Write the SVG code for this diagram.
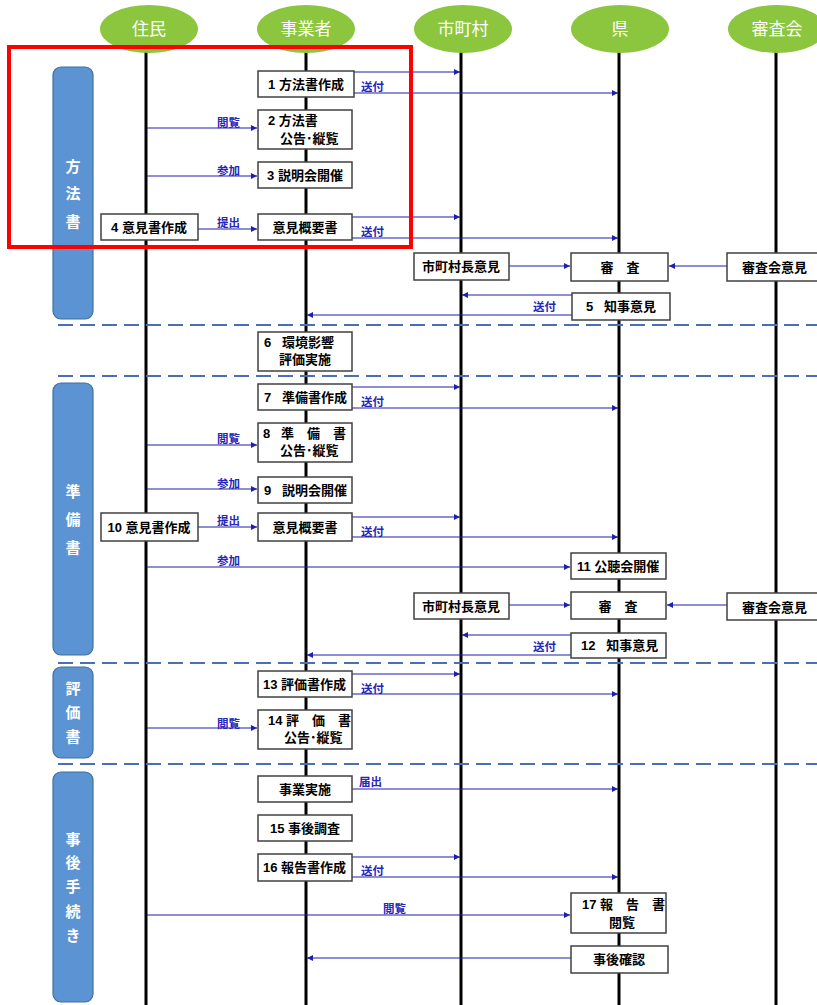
<svg xmlns="http://www.w3.org/2000/svg" width="817" height="1005" viewBox="0 0 817 1005">
<style>
.actor{fill:#8cc63f}
.actorT{font-family:"Liberation Sans","Noto Sans CJK JP",sans-serif;font-size:17px;fill:#fff;text-anchor:middle}
.life{stroke:#000;stroke-width:3}
.phase{fill:#5b93d3;stroke:#41719c;stroke-width:1.2}
.phaseT{font-family:"Noto Sans CJK JP",sans-serif;font-size:15px;font-weight:bold;fill:#fff;text-anchor:middle}
.sep{stroke:#4a6fb5;stroke-width:2;stroke-dasharray:15 7;fill:none}
.box{fill:#fff;stroke:#404040;stroke-width:1.5}
.bt{font-family:"Liberation Sans","Noto Sans CJK JP",sans-serif;font-size:13px;font-weight:bold;fill:#000}
.c{text-anchor:middle}
.con{stroke:#1f1fb0;stroke-width:1.2;fill:none;marker-end:url(#ah)}
.lbl{font-family:"Noto Sans CJK JP",sans-serif;font-size:11.5px;font-weight:bold;fill:#2626b8}
</style>
<defs>
<marker id="ah" viewBox="0 0 10 10" refX="10" refY="5" markerWidth="8" markerHeight="6" markerUnits="userSpaceOnUse" orient="auto">
<path d="M0,0 L10,5 L0,10 z" fill="#1f1fb0"/>
</marker>
</defs>
<rect width="817" height="1005" fill="#fff"/>

<g id="lifelines">
<line class="life" x1="146" y1="50" x2="146" y2="1005"/>
<line class="life" x1="306" y1="50" x2="306" y2="1005"/>
<line class="life" x1="461" y1="50" x2="461" y2="1005"/>
<line class="life" x1="619" y1="50" x2="619" y2="1005"/>
<line class="life" x1="776" y1="50" x2="776" y2="1005"/>
</g>

<g id="separators">
<line class="sep" x1="58" y1="325" x2="817" y2="325"/>
<line class="sep" x1="58" y1="376" x2="817" y2="376"/>
<line class="sep" x1="58" y1="663" x2="817" y2="663"/>
<line class="sep" x1="58" y1="764" x2="817" y2="764"/>
</g>

<g id="actor-jumin"><ellipse class="actor" cx="149" cy="29" rx="49" ry="24"/><text class="actorT" x="149" y="35">住民</text></g>
<g id="actor-jigyosha"><ellipse class="actor" cx="306" cy="29" rx="49" ry="24"/><text class="actorT" x="306" y="35">事業者</text></g>
<g id="actor-shichoson"><ellipse class="actor" cx="463" cy="29" rx="49" ry="24"/><text class="actorT" x="463" y="35">市町村</text></g>
<g id="actor-ken"><ellipse class="actor" cx="620" cy="29" rx="49" ry="24"/><text class="actorT" x="620" y="35">県</text></g>
<g id="actor-shinsakai"><ellipse class="actor" cx="777" cy="29" rx="49" ry="24"/><text class="actorT" x="777" y="35">審査会</text></g>

<g id="phase-hohosho"><rect class="phase" x="53" y="67" width="40" height="252" rx="8"/>
<text class="phaseT" x="73" y="172">方</text><text class="phaseT" x="73" y="199">法</text><text class="phaseT" x="73" y="227">書</text></g>
<g id="phase-junbisho"><rect class="phase" x="53" y="383" width="40" height="272" rx="8"/>
<text class="phaseT" x="73" y="497">準</text><text class="phaseT" x="73" y="525">備</text><text class="phaseT" x="73" y="553">書</text></g>
<g id="phase-hyokasho"><rect class="phase" x="53" y="667" width="40" height="91" rx="8"/>
<text class="phaseT" x="73" y="694">評</text><text class="phaseT" x="73" y="718">価</text><text class="phaseT" x="73" y="742">書</text></g>
<g id="phase-jigo"><rect class="phase" x="53" y="772" width="40" height="230" rx="8"/>
<text class="phaseT" x="73" y="845">事</text><text class="phaseT" x="73" y="868">後</text><text class="phaseT" x="73" y="892">手</text><text class="phaseT" x="73" y="917">続</text><text class="phaseT" x="73" y="941">き</text></g>

<g id="connectors">
<path class="con" d="M354 72 H460"/>
<path class="con" d="M354 93 H618"/>
<path class="con" d="M147 128 H257"/>
<path class="con" d="M147 176 H257"/>
<path class="con" d="M198 229 H257"/>
<path class="con" d="M352 217 H460"/>
<path class="con" d="M352 238 H618"/>
<path class="con" d="M509 266 H570"/>
<path class="con" d="M727 266 H669"/>
<path class="con" d="M572 295 H462"/>
<path class="con" d="M572 315 H307"/>
<path class="con" d="M352 387 H460"/>
<path class="con" d="M352 408 H618"/>
<path class="con" d="M147 445 H257"/>
<path class="con" d="M147 489 H257"/>
<path class="con" d="M198 527 H257"/>
<path class="con" d="M352 517 H460"/>
<path class="con" d="M352 537 H618"/>
<path class="con" d="M147 567 H570"/>
<path class="con" d="M509 605 H570"/>
<path class="con" d="M727 605 H667"/>
<path class="con" d="M571 635 H462"/>
<path class="con" d="M571 655 H307"/>
<path class="con" d="M352 674 H460"/>
<path class="con" d="M352 694 H618"/>
<path class="con" d="M147 728 H257"/>
<path class="con" d="M352 789 H618"/>
<path class="con" d="M352 857 H460"/>
<path class="con" d="M352 877 H618"/>
<path class="con" d="M147 915 H570"/>
<path class="con" d="M571 958 H307"/>
<text class="lbl" x="361" y="91">送付</text>
<text class="lbl" x="217" y="127">閲覧</text>
<text class="lbl" x="217" y="175">参加</text>
<text class="lbl" x="217" y="227">提出</text>
<text class="lbl" x="361" y="236">送付</text>
<text class="lbl" x="533" y="311">送付</text>
<text class="lbl" x="361" y="406">送付</text>
<text class="lbl" x="217" y="443">閲覧</text>
<text class="lbl" x="217" y="488">参加</text>
<text class="lbl" x="217" y="525">提出</text>
<text class="lbl" x="361" y="536">送付</text>
<text class="lbl" x="217" y="565">参加</text>
<text class="lbl" x="533" y="651">送付</text>
<text class="lbl" x="361" y="693">送付</text>
<text class="lbl" x="217" y="728">閲覧</text>
<text class="lbl" x="359" y="786">届出</text>
<text class="lbl" x="361" y="875">送付</text>
<text class="lbl" x="383" y="913">閲覧</text>
</g>

<g id="n1"><rect class="box" x="258" y="71" width="96" height="26"/><text class="bt c" x="306" y="89">1 方法書作成</text></g>
<g id="n2"><rect class="box" x="258" y="110" width="94" height="39"/><text class="bt" x="268" y="125">2 方法書</text><text class="bt" x="280" y="143">公告･縦覧</text></g>
<g id="n3"><rect class="box" x="258" y="162" width="94" height="26"/><text class="bt c" x="305" y="180">3 説明会開催</text></g>
<g id="n4"><rect class="box" x="101" y="214" width="97" height="26"/><text class="bt c" x="149" y="232">4 意見書作成</text></g>
<g id="n4b"><rect class="box" x="258" y="214" width="94" height="26"/><text class="bt c" x="305" y="232">意見概要書</text></g>
<g id="n-mayor1"><rect class="box" x="414" y="253" width="95" height="27"/><text class="bt c" x="461" y="271">市町村長意見</text></g>
<g id="n-review1"><rect class="box" x="571" y="253" width="97" height="28"/><text class="bt c" x="620" y="272">審　査</text></g>
<g id="n-council1"><rect class="box" x="727" y="253" width="95" height="28"/><text class="bt" x="742" y="272">審査会意見</text></g>
<g id="n5"><rect class="box" x="572" y="293" width="98" height="27"/><text class="bt" x="586" y="311">5&#160;&#160;&#160;知事意見</text></g>
<g id="n6"><rect class="box" x="258" y="332" width="94" height="39"/><text class="bt" x="264" y="347">6&#160;&#160;&#160;環境影響</text><text class="bt" x="279" y="364">評価実施</text></g>
<g id="n7"><rect class="box" x="258" y="384" width="94" height="26"/><text class="bt" x="264" y="402">7&#160;&#160;&#160;準備書作成</text></g>
<g id="n8"><rect class="box" x="258" y="423" width="94" height="39"/><text class="bt" x="263" y="438">8&#160;&#160;&#160;準　備　書</text><text class="bt" x="280" y="455">公告･縦覧</text></g>
<g id="n9"><rect class="box" x="258" y="477" width="94" height="26"/><text class="bt" x="264" y="495">9&#160;&#160;&#160;説明会開催</text></g>
<g id="n10"><rect class="box" x="101" y="513" width="97" height="28"/><text class="bt c" x="149" y="532">10 意見書作成</text></g>
<g id="n10b"><rect class="box" x="258" y="513" width="94" height="28"/><text class="bt c" x="305" y="532">意見概要書</text></g>
<g id="n11"><rect class="box" x="571" y="553" width="95" height="26"/><text class="bt" x="577" y="571">11 公聴会開催</text></g>
<g id="n-mayor2"><rect class="box" x="414" y="593" width="95" height="26"/><text class="bt c" x="461" y="611">市町村長意見</text></g>
<g id="n-review2"><rect class="box" x="571" y="592" width="95" height="27"/><text class="bt c" x="618" y="611">審　査</text></g>
<g id="n-council2"><rect class="box" x="727" y="593" width="95" height="27"/><text class="bt" x="742" y="612">審査会意見</text></g>
<g id="n12"><rect class="box" x="571" y="633" width="95" height="25"/><text class="bt" x="581" y="650">12&#160;&#160;&#160;知事意見</text></g>
<g id="n13"><rect class="box" x="258" y="671" width="94" height="26"/><text class="bt" x="263" y="689">13 評価書作成</text></g>
<g id="n14"><rect class="box" x="258" y="710" width="94" height="39"/><text class="bt" x="268" y="725">14 評　価　書</text><text class="bt" x="284" y="742">公告･縦覧</text></g>
<g id="n-exec"><rect class="box" x="258" y="776" width="94" height="26"/><text class="bt c" x="305" y="794">事業実施</text></g>
<g id="n15"><rect class="box" x="258" y="815" width="94" height="26"/><text class="bt c" x="305" y="833">15 事後調査</text></g>
<g id="n16"><rect class="box" x="258" y="854" width="94" height="27"/><text class="bt" x="263" y="872">16 報告書作成</text></g>
<g id="n17"><rect class="box" x="571" y="893" width="95" height="40"/><text class="bt" x="582" y="909">17 報　告　書</text><text class="bt" x="609" y="927">閲覧</text></g>
<g id="n-confirm"><rect class="box" x="571" y="946" width="97" height="27"/><text class="bt c" x="619" y="964">事後確認</text></g>

<g id="highlight"><rect x="9" y="47" width="402" height="200" fill="none" stroke="#ff0000" stroke-width="4"/></g>
</svg>
